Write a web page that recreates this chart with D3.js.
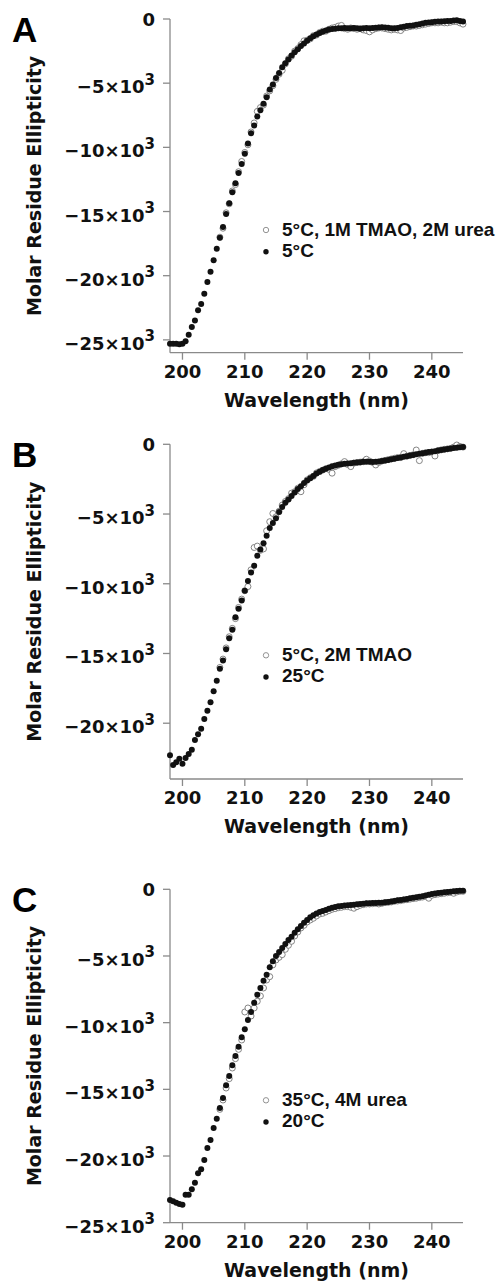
<!DOCTYPE html>
<html>
<head>
<meta charset="utf-8">
<script src="https://cdn.jsdelivr.net/npm/d3@7"></script>
<style>
  body { margin: 0; background: #fff; }
  svg { display: block; }
</style>
</head>
<body>
<div id="chart"></div>
<script>
// wavelength grid (nm), 0.5 nm steps
const wavelengths = [
  198, 198.5, 199, 199.5,
  200, 200.5, 201, 201.5, 202, 202.5, 203, 203.5, 204, 204.5,
  205, 205.5, 206, 206.5, 207, 207.5, 208, 208.5, 209, 209.5,
  210, 210.5, 211, 211.5, 212, 212.5, 213, 213.5, 214, 214.5,
  215, 215.5, 216, 216.5, 217, 217.5, 218, 218.5, 219, 219.5,
  220, 220.5, 221, 221.5, 222, 222.5, 223, 223.5, 224, 224.5,
  225, 225.5, 226, 226.5, 227, 227.5, 228, 228.5, 229, 229.5,
  230, 230.5, 231, 231.5, 232, 232.5, 233, 233.5, 234, 234.5,
  235, 235.5, 236, 236.5, 237, 237.5, 238, 238.5, 239, 239.5,
  240, 240.5, 241, 241.5, 242, 242.5, 243, 243.5, 244, 244.5,
  245
];

// molar residue ellipticity, in units of 10^3
const filledA = [
  -25.3, -25.3, -25.3, -25.35,
  -25.3, -25.1, -24.6, -24.0, -23.5, -22.7, -22.2, -21.4, -20.5, -19.7,
  -18.8, -17.9, -17.05, -16.2, -15.2, -14.35, -13.5, -12.8, -12.0, -11.3,
  -10.5, -9.7, -8.9, -8.3, -7.6, -7.1, -6.6, -6.1, -5.5, -5.1,
  -4.6, -4.2, -3.75, -3.45, -3.15, -2.85, -2.6, -2.35, -2.1, -1.9,
  -1.7, -1.5, -1.35, -1.2, -1.1, -1.0, -0.9, -0.82, -0.78, -0.75,
  -0.72, -0.72, -0.7, -0.72, -0.72, -0.7, -0.72, -0.75, -0.72, -0.7,
  -0.72, -0.7, -0.68, -0.66, -0.65, -0.66, -0.68, -0.72, -0.72, -0.7,
  -0.65, -0.6, -0.55, -0.52, -0.5, -0.45, -0.4, -0.35, -0.3, -0.28,
  -0.25, -0.22, -0.2, -0.2, -0.18, -0.15, -0.15, -0.12, -0.1, -0.15,
  -0.2
];
const openA = [
  null, null, null, null,
  null, null, null, null, null, null, null, null, null, null,
  null, null, -17.0, -16.3, -15.1, -14.4, -13.4, -12.9, -11.9, -11.1,
  -10.4, -9.8, -8.8, -8.1, -7.2, -6.9, -6.7, -6.0, -5.6, -5.2,
  -4.7, -4.3, -4.0, -3.5, -3.1, -2.9, -2.5, -2.3, -2.0, -1.7,
  -1.65, -1.55, -1.3, -1.25, -1.05, -0.95, -0.95, -0.8, -0.7, -0.65,
  -0.55, -0.5, -0.75, -0.8, -0.7, -0.75, -0.8, -0.75, -0.85, -0.9,
  -1.0, -0.85, -0.75, -0.7, -0.7, -0.75, -0.8, -0.85, -0.8, -0.85,
  -0.9, -0.7, -0.65, -0.6, -0.55, -0.55, -0.5, -0.45, -0.4, -0.35,
  -0.3, -0.3, -0.3, -0.25, -0.3, -0.3, -0.25, -0.2, -0.2, -0.3,
  -0.4
];

const filledB = [
  -22.3, -23.0, -22.8, -22.55,
  -22.9, -22.5, -22.2, -21.9, -21.2, -20.8, -20.4, -19.7, -19.1, -18.5,
  -17.7, -16.95, -16.1, -15.5, -14.7, -13.9, -13.3, -12.4, -11.8, -11.2,
  -10.5, -9.8, -9.2, -8.7, -8.0, -7.55, -7.1, -6.55, -6.0, -5.65,
  -5.3, -4.85, -4.5, -4.2, -3.95, -3.7, -3.45, -3.2, -3.0, -2.78,
  -2.6, -2.43, -2.28, -2.1, -1.97, -1.85, -1.75, -1.67, -1.58, -1.52,
  -1.47, -1.43, -1.4, -1.37, -1.35, -1.32, -1.3, -1.28, -1.26, -1.26,
  -1.26, -1.27, -1.26, -1.24, -1.2, -1.16, -1.12, -1.08, -1.03, -0.98,
  -0.94, -0.9, -0.85, -0.8, -0.76, -0.72, -0.68, -0.64, -0.6, -0.56,
  -0.53, -0.49, -0.45, -0.41, -0.37, -0.33, -0.3, -0.27, -0.24, -0.21,
  -0.19
];
const openB = [
  null, null, null, null,
  null, null, null, null, null, null, null, null, null, null,
  null, null, -16.0, -15.4, -14.6, -13.8, -13.2, -12.5, -11.7, -11.1,
  -10.5, -10.2, -9.0, -7.4, -7.3, -7.6, -7.5, -6.2, -5.55, -4.96,
  -5.2, -4.8, -4.36, -4.1, -3.9, -3.5, -3.4, -3.15, -3.4, -2.9,
  -2.55, -2.4, -2.3, -2.05, -1.95, -1.85, -1.75, -1.8, -2.07, -1.6,
  -1.5, -1.4, -1.24, -1.45, -1.6, -1.35, -1.3, -1.28, -1.25, -1.07,
  -1.2, -1.3, -1.48, -1.3, -1.2, -1.15, -1.1, -1.05, -1.0, -0.95,
  -0.95, -0.67, -0.85, -0.8, -0.75, -0.41, -1.17, -0.65, -0.6, -0.6,
  -0.55, -0.84, -0.45, -0.4, -0.36, -0.33, -0.3, -0.2, -0.05, -0.15,
  -0.2
];

const filledC = [
  -23.3, -23.4, -23.5, -23.6,
  -23.65, -22.9, -22.9, -22.5, -22.0, -21.3, -21.0, -20.3, -19.4, -18.8,
  -17.9, -17.2, -16.4, -15.65, -14.7, -14.0, -13.2, -12.5, -11.8, -11.1,
  -10.5, -9.8, -9.2, -8.5, -7.9, -7.4, -6.85, -6.4, -5.85, -5.4,
  -5.0, -4.7, -4.4, -4.1, -3.8, -3.55, -3.25, -3.0, -2.75, -2.5,
  -2.3, -2.1, -1.95, -1.82, -1.7, -1.62, -1.55, -1.45, -1.38, -1.32,
  -1.28, -1.25, -1.22, -1.2, -1.18, -1.15, -1.12, -1.1, -1.08, -1.05,
  -1.04, -1.03, -1.02, -1.0, -1.0, -0.98, -0.95, -0.92, -0.88, -0.83,
  -0.8, -0.76, -0.72, -0.68, -0.64, -0.6, -0.56, -0.52, -0.46, -0.4,
  -0.36, -0.32, -0.28, -0.25, -0.22, -0.2, -0.18, -0.15, -0.12, -0.1,
  -0.1
];
const openC = [
  null, null, null, null,
  null, null, null, null, null, null, null, null, null, null,
  null, null, -16.5, -15.8, -14.9, -14.2, -13.4, -12.7, -12.0, -11.3,
  -9.2, -8.9, -9.5, -8.9, -8.4, -8.0, -7.4, -6.8, -6.55, -5.67,
  -5.3, -5.1, -4.9, -4.5, -4.2, -3.9, -3.5, -3.2, -2.9, -2.7,
  -2.45, -2.3, -2.17, -2.0, -1.85, -1.8, -1.7, -1.6, -1.5, -1.45,
  -1.38, -1.35, -1.3, -1.3, -1.35, -1.42, -1.3, -1.2, -1.15, -1.1,
  -1.1, -1.08, -1.05, -1.1, -1.05, -1.0, -0.98, -0.95, -0.9, -0.88,
  -0.85, -0.8, -0.78, -0.74, -0.7, -0.67, -0.62, -0.58, -0.53, -0.67,
  -0.45, -0.4, -0.36, -0.33, -0.3, -0.26, -0.24, -0.3, -0.2, -0.15,
  -0.15
];

const panelLabels = ['A', 'B', 'C'];
const openNames = ['5°C, 1M TMAO, 2M urea', '5°C, 2M TMAO', '35°C, 4M urea'];
const filledNames = ['5°C', '25°C', '20°C'];
const yTicksA = [0, -5, -10, -15, -20, -25];
const yTicksB = [0, -5, -10, -15, -20];
const yTicksC = [0, -5, -10, -15, -20, -25];
const yBottoms = [-26, -24, -25];
const xDomain = [198, 245];
const xTicks = [200, 210, 220, 230, 240];

const width = 496, height = 1283;
const axisColor = '#8a8a8a';
const tickFont = '"DejaVu Sans", sans-serif';
const legendFont = '"Liberation Sans", Arial, sans-serif';

const svg = d3.select('#chart').append('svg')
  .attr('width', width).attr('height', height)
  .attr('viewBox', `0 0 ${width} ${height}`);

const x = d3.scaleLinear().domain(xDomain).range([170, 463]);

// pixel top / bottom of each panel's plot area
const panels = [
  { top: 19, bottom: 352.7, filled: filledA, open: openA, ticks: yTicksA },
  { top: 444.3, bottom: 779, filled: filledB, open: openB, ticks: yTicksB },
  { top: 889.3, bottom: 1222.7, filled: filledC, open: openC, ticks: yTicksC }
];

panels.forEach((p, i) => {
  const y = d3.scaleLinear().domain([yBottoms[i], 0]).range([p.bottom, p.top]);
  const g = svg.append('g');

  // axes (L shape, grey)
  g.append('line')
    .attr('x1', x.range()[0]).attr('x2', x.range()[0])
    .attr('y1', y(0)).attr('y2', p.bottom)
    .attr('stroke', axisColor).attr('stroke-width', 1.3);
  g.append('line')
    .attr('x1', x.range()[0]).attr('x2', x.range()[1])
    .attr('y1', p.bottom).attr('y2', p.bottom)
    .attr('stroke', axisColor).attr('stroke-width', 1.3);

  // y ticks
  const yt = g.append('g').selectAll('g').data(p.ticks).join('g')
    .attr('transform', (d) => `translate(0,${y(d)})`);
  yt.append('line')
    .attr('x1', 163).attr('x2', 170)
    .attr('stroke', axisColor).attr('stroke-width', 1.3);
  const yLab = yt.append('text')
    .attr('x', 155)
    .attr('y', (d) => (d === 0 ? 6.5 : 10))
    .attr('text-anchor', 'end')
    .attr('font-family', tickFont).attr('font-weight', 'bold')
    .attr('font-size', 18).attr('fill', '#111');
  yLab.each(function (d) {
    const t = d3.select(this);
    if (d === 0) {
      t.text('0');
    } else {
      t.append('tspan').text(`\u2212${-d}\u00d710`);
      t.append('tspan').attr('dy', -8.5).attr('font-size', 15).text('3');
    }
  });

  // x ticks
  const xt = g.append('g').selectAll('g').data(xTicks).join('g')
    .attr('transform', (d) => `translate(${x(d)},${p.bottom})`);
  xt.append('line')
    .attr('y1', 0).attr('y2', 7)
    .attr('stroke', axisColor).attr('stroke-width', 1.3);
  xt.append('text')
    .attr('y', 25)
    .attr('text-anchor', 'middle')
    .attr('font-family', tickFont).attr('font-weight', 'bold')
    .attr('font-size', 18).attr('fill', '#111')
    .text((d) => d);

  // axis titles
  g.append('text')
    .attr('x', (x.range()[0] + x.range()[1]) / 2)
    .attr('y', p.bottom + 54)
    .attr('text-anchor', 'middle')
    .attr('font-family', tickFont).attr('font-weight', 'bold')
    .attr('font-size', 19).attr('fill', '#111')
    .text('Wavelength (nm)');
  g.append('text')
    .attr('transform', `translate(41,${(y(0) + p.bottom) / 2}) rotate(-90)`)
    .attr('text-anchor', 'middle')
    .attr('font-family', tickFont).attr('font-weight', 'bold')
    .attr('font-size', 19).attr('fill', '#111')
    .text('Molar Residue Ellipticity');

  // panel letter
  g.append('text')
    .attr('x', 12).attr('y', p.top + 23)
    .attr('font-family', legendFont).attr('font-weight', 'bold')
    .attr('font-size', 35).attr('fill', '#000')
    .text(panelLabels[i]);

  // data points: open series underneath, filled on top
  const openPts = wavelengths.map((w, k) => [w, p.open[k]]).filter((d) => d[1] !== null);
  const filledPts = wavelengths.map((w, k) => [w, p.filled[k]]);

  g.append('g').selectAll('circle').data(openPts).join('circle')
    .attr('cx', (d) => x(d[0])).attr('cy', (d) => y(d[1]))
    .attr('r', 3)
    .attr('fill', '#fff').attr('stroke', '#777').attr('stroke-width', 0.9);
  g.append('g').selectAll('circle').data(filledPts).join('circle')
    .attr('cx', (d) => x(d[0])).attr('cy', (d) => y(d[1]))
    .attr('r', 3)
    .attr('fill', '#111');

  // legend
  const lg = g.append('g').attr('transform', `translate(266,${p.top + 211})`);
  lg.append('circle').attr('cx', 0).attr('cy', 0).attr('r', 2.7)
    .attr('fill', 'none').attr('stroke', '#888').attr('stroke-width', 0.9);
  lg.append('circle').attr('cx', 0).attr('cy', 21.7).attr('r', 2.7)
    .attr('fill', '#111');
  lg.append('text')
    .attr('x', 16).attr('y', 5.5)
    .attr('font-family', legendFont).attr('font-weight', 'bold')
    .attr('font-size', 19).attr('fill', '#111')
    .text(openNames[i]);
  lg.append('text')
    .attr('x', 16).attr('y', 27)
    .attr('font-family', legendFont).attr('font-weight', 'bold')
    .attr('font-size', 19).attr('fill', '#111')
    .text(filledNames[i]);
});
</script>
</body>
</html>
